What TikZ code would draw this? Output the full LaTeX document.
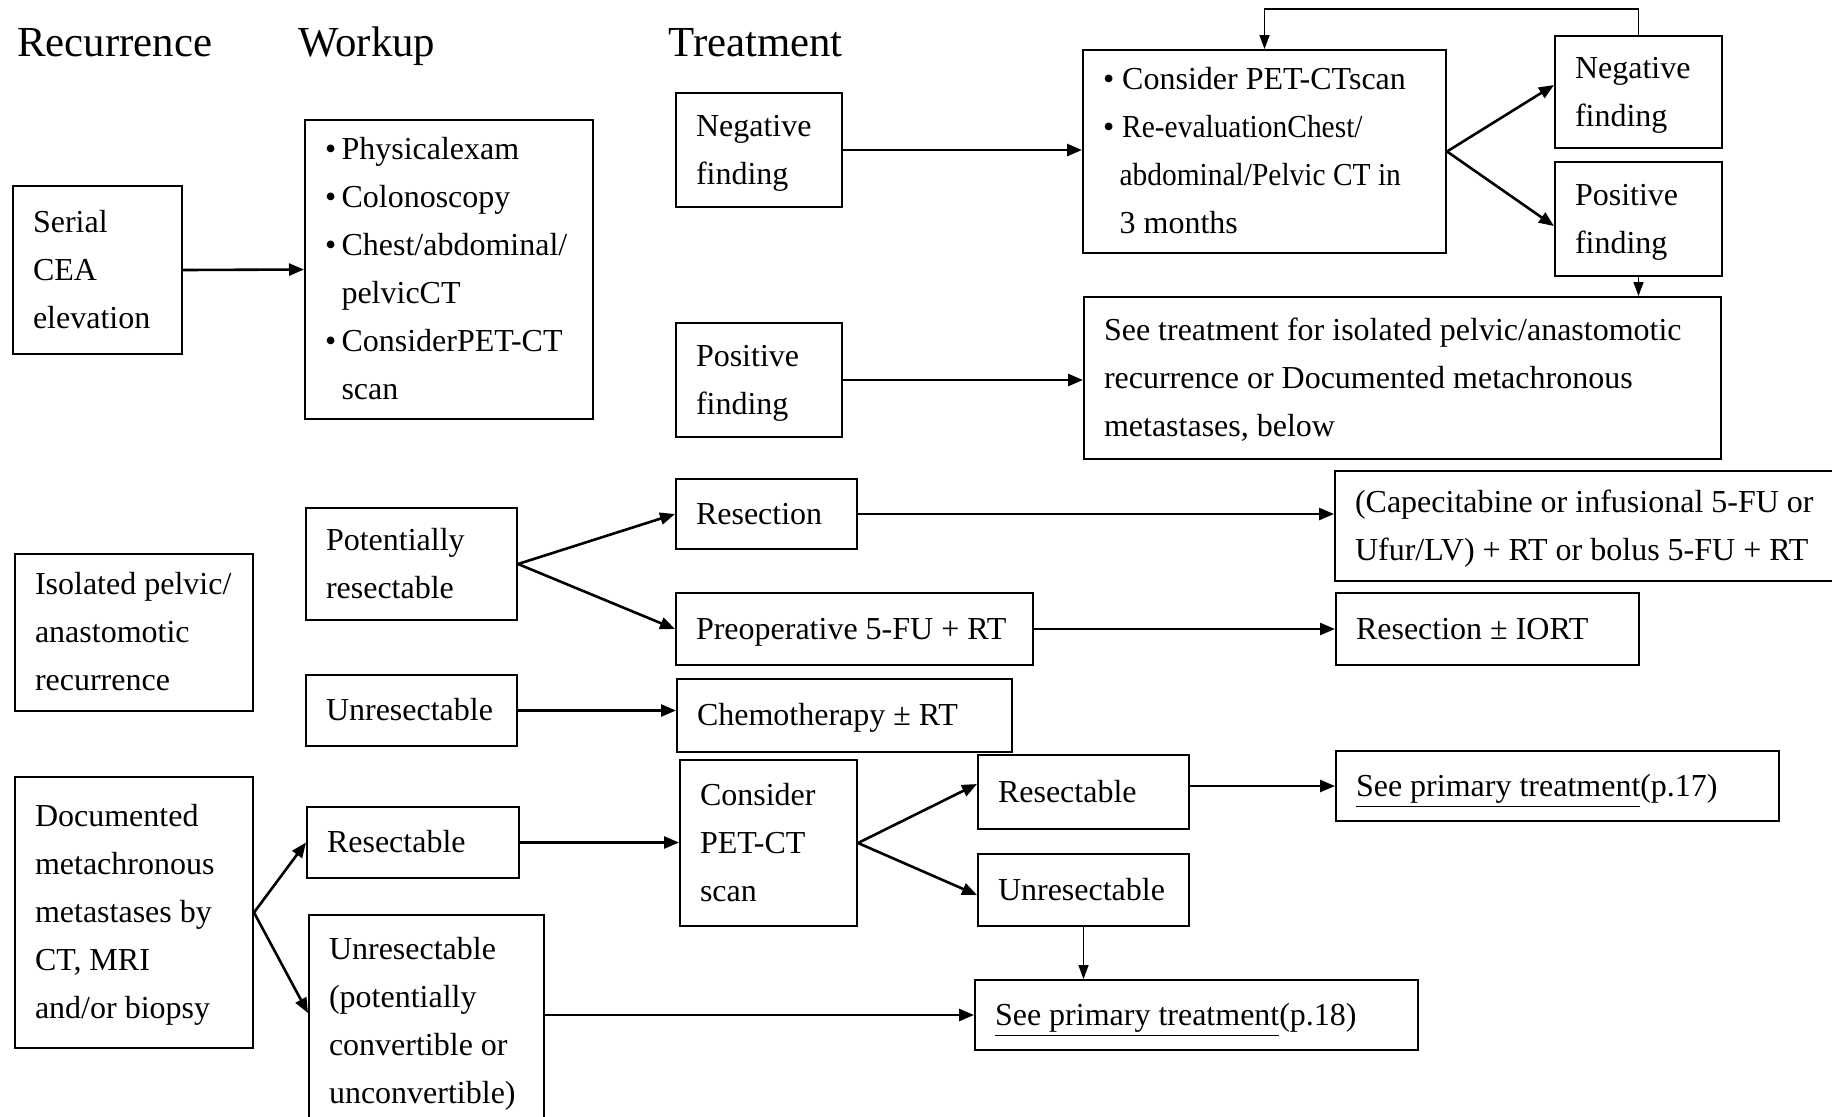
\documentclass[tikz,border=0pt]{standalone}
\usepackage{fontspec}
\setmainfont{Liberation Serif}
\newfontfamily\narrowserif[FakeStretch=0.92]{Liberation Serif}
\usetikzlibrary{arrows.meta}
\newcommand\boxstrut{\rule[-6.8pt]{0pt}{24pt}}
\begin{document}
\begin{tikzpicture}[x=0.5pt,y=-0.5pt,>={Triangle[length=7.5pt,width=6pt]},
	box/.style={draw,line width=1pt,anchor=north west,align=flush left,inner xsep=10pt,inner ysep=0pt,font=\fontsize{16}{24}\selectfont,
		execute at begin node=\boxstrut,execute at end node=\boxstrut},
	head/.style={anchor=base west,inner sep=0pt,font=\fontsize{21.4}{25}\selectfont},
	link/.style={->,line width=1.3pt},
	thinlink/.style={->,line width=0.75pt,>={Triangle[length=7pt,width=5pt]}}]
	\useasboundingbox (0,0) rectangle (1832,1116);
	% column titles
	\node[head] (hrec) at (17,56) {Recurrence};
	\node[head] (hwork) at (298,56) {Workup};
	\node[head] (htreat) at (668,56) {Treatment};
	% serial CEA elevation
	\node[box,text width=64.5pt,minimum height=84pt] (serial) at (12,185) {Serial\\CEA\\elevation};
	\node[box,text width=124pt,minimum height=149.5pt] (workup) at (304,119) {•\thinspace Physicalexam\\•\thinspace Colonoscopy\\•\thinspace Chest/abdominal/\\\hphantom{•\thinspace}pelvicCT\\•\thinspace ConsiderPET-CT\\\hphantom{•\thinspace}scan};
	\node[box,text width=63pt,minimum height=57pt] (negL) at (675,92) {Negative\\finding};
	\node[box,text width=63pt,minimum height=57pt] (posL) at (675,322) {Positive\\finding};
	\node[box,text width=161.5pt,minimum height=101.5pt] (pet) at (1082,49) {• Consider PET-CTscan\\• {\narrowserif Re-evaluationChest/}\\\hspace*{8.3pt}{\narrowserif abdominal/Pelvic CT in}\\\hspace*{8.3pt}3 months};
	\node[box,text width=63.5pt,minimum height=56pt] (negR) at (1554,35) {Negative\\finding};
	\node[box,text width=63.5pt,minimum height=57pt] (posR) at (1554,161) {Positive\\finding};
	\node[box,text width=298.5pt,minimum height=81pt] (seeT) at (1083,296) {See treatment for isolated pelvic/anastomotic\\recurrence or Documented metachronous\\metastases, below};
	% isolated pelvic/anastomotic recurrence
	\node[box,text width=99pt,minimum height=78.5pt] (iso) at (14,553) {Isolated pelvic/\\anastomotic\\recurrence};
	\node[box,text width=85.5pt,minimum height=56pt] (pot) at (305,507) {Potentially\\resectable};
	\node[box,text width=85.5pt,minimum height=35.5pt] (un1) at (305,674) {Unresectable};
	\node[box,text width=70.5pt,minimum height=35pt] (res) at (675,478) {Resection};
	\node[box,text width=158.5pt,minimum height=36pt] (pre) at (675,592) {Preoperative 5-FU + RT};
	\node[box,text width=147.5pt,minimum height=36.5pt] (chemo) at (676,678) {Chemotherapy ± RT};
	\node[box,text width=233pt,minimum height=55pt] (cap) at (1334,470) {(Capecitabine or infusional 5-FU or\\Ufur/LV) + RT or bolus 5-FU + RT};
	\node[box,text width=131.5pt,minimum height=36pt] (iort) at (1335,592) {Resection ± IORT};
	% documented metachronous metastases
	\node[box,text width=99pt,minimum height=135.5pt] (doc) at (14,776) {Documented\\metachronous\\metastases by\\CT, MRI\\and/or biopsy};
	\node[box,text width=86pt,minimum height=35.5pt] (resW) at (306,806) {Resectable};
	\node[box,text width=97.5pt,minimum height=106pt] (unW) at (308,914) {Unresectable\\(potentially\\convertible or\\unconvertible)};
	\node[box,text width=68.5pt,minimum height=83pt] (pet2) at (679,759) {Consider\\PET-CT\\scan};
	\node[box,text width=85.5pt,minimum height=37pt] (resT) at (977,754) {Resectable};
	\node[box,text width=85.5pt,minimum height=36pt] (unT) at (977,853) {Unresectable};
	\node[box,text width=201.5pt,minimum height=35pt] (p17) at (1335,750) {\underline{See primary treatment}(p.17)};
	\node[box,text width=201.5pt,minimum height=35pt] (p18) at (974,979) {\underline{See primary treatment}(p.18)};
	% connectors
	\draw[link] (serial.east) -- (workup.west);
	\draw[link] (negL.east) -- (negL.east -| pet.west);
	\draw[link] (posL.east) -- (posL.east -| seeT.west);
	\draw[link] (pet.east) -- ([yshift=3.5pt]negR.west);
	\draw[link] (pet.east) -- ([yshift=-3.5pt]posR.west);
	\draw[thinlink] (negR.north) -- ++(0,-26) -| (pet.north);
	\draw[thinlink] (posR.south) -- (posR.south |- seeT.north);
	\draw[link] (pot.east) -- (res.west);
	\draw[link] (pot.east) -- (pre.west);
	\draw[link] (un1.east) -- (un1.east -| chemo.west);
	\draw[link] (res.east) -- (res.east -| cap.west);
	\draw[link] (pre.east) -- (pre.east -| iort.west);
	\draw[link] (doc.east) -- (resW.west);
	\draw[link] (doc.east) -- ([yshift=4pt]unW.west);
	\draw[link] (resW.east) -- (resW.east -| pet2.west);
	\draw[link] (pet2.east) -- ([yshift=4pt]resT.west);
	\draw[link] (pet2.east) -- ([yshift=-2.5pt]unT.west);
	\draw[link] (p17.west -| resT.east) -- (p17.west);
	\draw[thinlink] (unT.south) -- (unT.south |- p18.north);
	\draw[link] (p18.west -| unW.east) -- (p18.west);
\end{tikzpicture}
\end{document}
